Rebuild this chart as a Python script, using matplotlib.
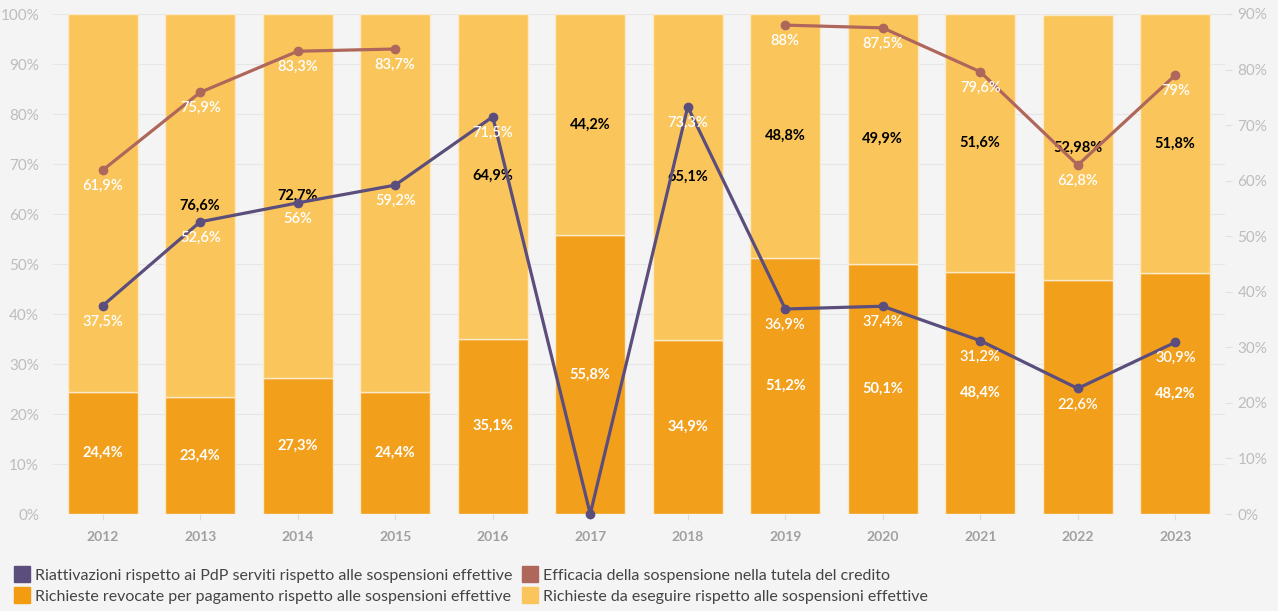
import numpy as np
import matplotlib.pyplot as plt
from matplotlib.lines import Line2D

plt.rcParams['font.family'] = ['Lato', 'DejaVu Sans']

years = ['2012', '2013', '2014', '2015', '2016', '2017', '2018', '2019', '2020', '2021', '2022', '2023']
revocate = [24.4, 23.4, 27.3, 24.4, 35.1, 55.8, 34.9, 51.2, 50.1, 48.4, 46.8, 48.2]
da_eseguire = [75.6, 76.6, 72.7, 75.6, 64.9, 44.2, 65.1, 48.8, 49.9, 51.6, 52.98, 51.8]
riattivazioni = [37.5, 52.6, 56, 59.2, 71.5, 0, 73.3, 36.9, 37.4, 31.2, 22.6, 30.9]
efficacia = [61.9, 75.9, 83.3, 83.7, np.nan, np.nan, np.nan, 88, 87.5, 79.6, 62.8, 79]

# labels shown on the chart (some are hidden in the original)
revocate_lbl = ['24,4%', '23,4%', '27,3%', '24,4%', '35,1%', '55,8%', '34,9%', '51,2%', '50,1%', '48,4%', '', '48,2%']
eseguire_lbl = ['', '76,6%', '72,7%', '', '64,9%', '44,2%', '65,1%', '48,8%', '49,9%', '51,6%', '52,98%', '51,8%']

c_dark = '#F29F1C'
c_light = '#FAC65B'
c_purple = '#5C4E7C'
c_red = '#B0675B'
bg = '#F4F4F4'
tick_col = '#BDBDBD'

fig = plt.figure(figsize=(12.78, 6.11), dpi=100, facecolor=bg)
ax = fig.add_axes([53 / 1278, 1 - 514 / 611, (1225 - 53) / 1278, 500 / 611])
ax.set_facecolor(bg)
x = np.arange(len(years))

ax.bar(x, revocate, width=0.72, color=c_dark, edgecolor='#FBE9C8', linewidth=1, zorder=2)
ax.bar(x, da_eseguire, bottom=revocate, width=0.72, color=c_light, edgecolor='#FBE9C8', linewidth=1, zorder=2)

for i in range(len(years)):
    if revocate_lbl[i]:
        ax.text(x[i], revocate[i] / 2, revocate_lbl[i], ha='center', va='center',
                color='white', fontsize=10.5, fontweight='bold', zorder=3)
    if eseguire_lbl[i]:
        ax.text(x[i], revocate[i] + da_eseguire[i] / 2, eseguire_lbl[i], ha='center', va='center',
                color='black', fontsize=10.5, fontweight='bold', zorder=3)

ax.set_xlim(-0.51, 11.51)
ax.set_ylim(0, 100)
ax.set_yticks(range(0, 101, 10))
ax.set_yticklabels([f'{v}%' for v in range(0, 101, 10)])
ax.set_xticks(x)
ax.set_xticklabels(years, fontweight='bold')
ax.tick_params(axis='y', colors=tick_col, labelsize=11, length=0, pad=10)
ax.tick_params(axis='x', colors='#DDDDDD', labelcolor='#A0A0A0', labelsize=10, length=4, pad=8)
ax.grid(axis='y', color='#E6E6E6', linewidth=0.8, zorder=0)
ax.set_axisbelow(True)
for s in ax.spines.values():
    s.set_visible(False)

ax2 = ax.twinx()
ax2.set_ylim(0, 90)
ax2.set_yticks(range(0, 91, 10))
ax2.set_yticklabels([f'{v}%' for v in range(0, 91, 10)])
ax2.tick_params(axis='y', colors='#E0E0E0', labelcolor=tick_col, labelsize=11, length=5, pad=4)
for s in ax2.spines.values():
    s.set_visible(False)

ax2.plot(x, riattivazioni, color=c_purple, linewidth=2.3, marker='o', markersize=6, zorder=4, clip_on=False)
ax2.plot(x, efficacia, color=c_red, linewidth=2.3, marker='o', markersize=6, zorder=4, clip_on=False)

for i in range(len(years)):
    v = riattivazioni[i]
    if v > 0:
        ax2.annotate(f'{v:g}%'.replace('.', ','), (x[i], v), xytext=(0, -11.5), textcoords='offset points',
                     ha='center', va='center', color='white', fontsize=10.5, fontweight='semibold', zorder=5)
    e = efficacia[i]
    if not np.isnan(e):
        ax2.annotate(f'{e:g}%'.replace('.', ','), (x[i], e), xytext=(0, -11.5), textcoords='offset points',
                     ha='center', va='center', color='white', fontsize=10.5, fontweight='semibold', zorder=5)

handles = [
    Line2D([], [], marker='s', linestyle='none', markersize=11, color=c_purple),
    Line2D([], [], marker='s', linestyle='none', markersize=11, color='#F39C12'),
    Line2D([], [], marker='s', linestyle='none', markersize=11, color=c_red),
    Line2D([], [], marker='s', linestyle='none', markersize=11, color=c_light),
]
labels = [
    'Riattivazioni rispetto ai PdP serviti rispetto alle sospensioni effettive',
    'Richieste revocate per pagamento rispetto alle sospensioni effettive',
    'Efficacia della sospensione nella tutela del credito',
    'Richieste da eseguire rispetto alle sospensioni effettive',
]
fig.legend(handles, labels, ncol=2, loc='lower left', bbox_to_anchor=(0.0, -0.012),
           frameon=False, fontsize=11.5, handletextpad=0.3, columnspacing=0.6,
           labelspacing=0.45, handlelength=1.0, labelcolor='#444444')

fig.savefig('out.png', dpi=100, facecolor=bg)
